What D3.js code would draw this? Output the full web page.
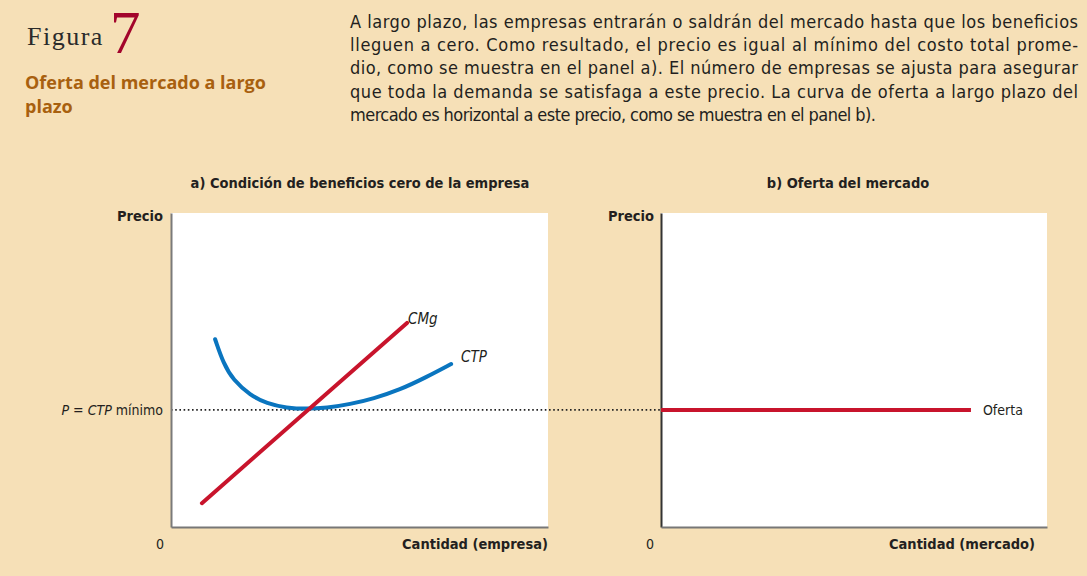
<!DOCTYPE html>
<html><head><meta charset="utf-8">
<script src="https://cdn.jsdelivr.net/npm/d3@7"></script>
<style>
body{margin:0;background:#f6e0b7;}
svg{display:block;}
.cond{font-family:"DejaVu Sans Condensed","DejaVu Sans",sans-serif;font-stretch:condensed;}
</style></head><body>
<script>
// ---- data ----
const paragraphLines = [
  "A largo plazo, las empresas entrarán o saldrán del mercado hasta que los beneficios",
  "lleguen a cero. Como resultado, el precio es igual al mínimo del costo total prome-",
  "dio, como se muestra en el panel a). El número de empresas se ajusta para asegurar",
  "que toda la demanda se satisfaga a este precio. La curva de oferta a largo plazo del",
  "mercado es horizontal a este precio, como se muestra en el panel b)."
];
const pMin = 3.73;
const cmgX = [0.82, 6.26];
const cmgY = [0.76, 6.5];
const ctpX = [1.17, 1.39, 1.65, 2.10, 2.54, 3.07, 3.60, 4.13, 4.75, 5.37, 6.07, 6.77, 7.43];
const ctpY = [5.98, 5.21, 4.68, 4.20, 3.93, 3.79, 3.76, 3.79, 3.91, 4.09, 4.37, 4.77, 5.19];
const ofertaX = [0, 8.03];
const ofertaY = [pMin, pMin];

const W = 1087, H = 576;
const svg = d3.select("body").append("svg").attr("width", W).attr("height", H);
svg.append("rect").attr("width", W).attr("height", H).attr("fill", "#f6e0b7");

// Header
svg.append("text").attr("x", 27).attr("y", 45).attr("font-family", "Liberation Serif, serif")
  .attr("font-size", 26).attr("fill", "#2b2b2b").attr("letter-spacing", 1.5).text("Figura");
svg.append("text").attr("x", 110).attr("y", 53).attr("font-family", "Liberation Serif, serif")
  .attr("font-size", 61).attr("fill", "#a3052c").text("7");
svg.append("text").attr("x", 25).attr("y", 89).attr("font-family", "Open Sans, sans-serif")
  .attr("font-size", 18).attr("font-weight", "bold").attr("fill", "#a8600f").text("Oferta del mercado a largo");
svg.append("text").attr("x", 25).attr("y", 113).attr("font-family", "Open Sans, sans-serif")
  .attr("font-size", 18).attr("font-weight", "bold").attr("fill", "#a8600f").text("plazo");

paragraphLines.forEach((t, i) => {
  const el = svg.append("text").attr("class", "cond").attr("x", 350).attr("y", 28 + i * 23.2)
    .attr("font-size", 18).attr("fill", "#231f20").text(t);
  if (i < paragraphLines.length - 1) el.attr("textLength", 728).attr("lengthAdjust", "spacing");
  else el.attr("textLength", 526).attr("lengthAdjust", "spacing");
});

// Panels
function panel(x0, x1, y0, y1, xmax) {
  const x = d3.scaleLinear().domain([0, xmax]).range([x0, x1]);
  const y = d3.scaleLinear().domain([0, 10]).range([y1, y0]);
  svg.append("rect").attr("x", x0).attr("y", y0).attr("width", x1 - x0).attr("height", y1 - y0).attr("fill", "#fff");
  return {x, y};
}
const A = panel(171, 548, 213, 527, 10);
const B = panel(661, 1047, 213, 527, 10);

// dotted line across
svg.append("line").attr("x1", A.x(0)).attr("x2", B.x(0)).attr("y1", A.y(pMin)).attr("y2", A.y(pMin))
  .attr("stroke", "#222").attr("stroke-width", 1.6).attr("stroke-dasharray", "1.6,2.6");

// axes
function axes(P, col) {
  const g = svg.append("g");
  g.append("g").attr("transform", `translate(${P.x(0)},0)`)
    .call(d3.axisLeft(P.y).tickValues([]).tickSizeOuter(0))
    .call(s => s.select(".domain").attr("stroke", col).attr("stroke-width", 2));
  g.append("g").attr("transform", `translate(0,${P.y(0)})`)
    .call(d3.axisBottom(P.x).tickValues([]).tickSizeOuter(0))
    .call(s => s.select(".domain").attr("stroke", "#777").attr("stroke-width", 2));
}
axes(A, "#7a7a7a");
axes(B, "#333");

// CTP curve
const ctp = ctpX.map((v, i) => [v, ctpY[i]]);
svg.append("path").datum(ctp)
  .attr("d", d3.line().x(d => A.x(d[0])).y(d => A.y(d[1])).curve(d3.curveBasis))
  .attr("fill", "none").attr("stroke", "#0a75bf").attr("stroke-width", 4).attr("stroke-linecap", "round");
// CMg
const cmg = cmgX.map((v, i) => [v, cmgY[i]]);
svg.append("path").datum(cmg)
  .attr("d", d3.line().x(d => A.x(d[0])).y(d => A.y(d[1])))
  .attr("fill", "none").attr("stroke", "#c8142c").attr("stroke-width", 4).attr("stroke-linecap", "round");
// Oferta
const of = ofertaX.map((v, i) => [v, ofertaY[i]]);
svg.append("path").datum(of)
  .attr("d", d3.line().x(d => B.x(d[0])).y(d => B.y(d[1])))
  .attr("fill", "none").attr("stroke", "#c8142c").attr("stroke-width", 4);

// labels
const lab = (x, y, t, o = {}) => svg.append("text").attr("class", "cond").attr("x", x).attr("y", y)
  .attr("font-size", o.size || 14).attr("fill", o.fill || "#231f20")
  .attr("font-weight", o.bold ? "bold" : null).attr("font-style", o.italic ? "italic" : null)
  .attr("text-anchor", o.anchor || "start").text(t);

lab(360, 188, "a) Condición de beneficios cero de la empresa", {bold: true, anchor: "middle", size: 14.5});
lab(848, 188, "b) Oferta del mercado", {bold: true, anchor: "middle", size: 14.5});
lab(163, 221, "Precio", {bold: true, anchor: "end", size: 14.5});
lab(654, 221, "Precio", {bold: true, anchor: "end", size: 14.5});
lab(160, 549, "0", {anchor: "middle"});
lab(650, 549, "0", {anchor: "middle"});
lab(548, 549, "Cantidad (empresa)", {bold: true, anchor: "end", size: 14.5});
lab(1035, 549, "Cantidad (mercado)", {bold: true, anchor: "end", size: 14.5});

const pl = svg.append("text").attr("class", "cond").attr("x", 163).attr("y", A.y(pMin) + 5)
  .attr("font-size", 14).attr("fill", "#231f20").attr("text-anchor", "end");
pl.append("tspan").attr("font-style", "italic").text("P");
pl.append("tspan").text(" = ");
pl.append("tspan").attr("font-style", "italic").text("CTP");
pl.append("tspan").text(" mínimo");

lab(A.x(cmgX[1]) + 1, A.y(cmgY[1]) + 1, "CMg", {italic: true, size: 15});
lab(A.x(ctpX[ctpX.length - 1]) + 10, A.y(ctpY[ctpY.length - 1]) - 2, "CTP", {italic: true, size: 15});
lab(B.x(ofertaX[1]) + 12, B.y(pMin) + 5, "Oferta", {size: 14});
</script>
</body></html>
